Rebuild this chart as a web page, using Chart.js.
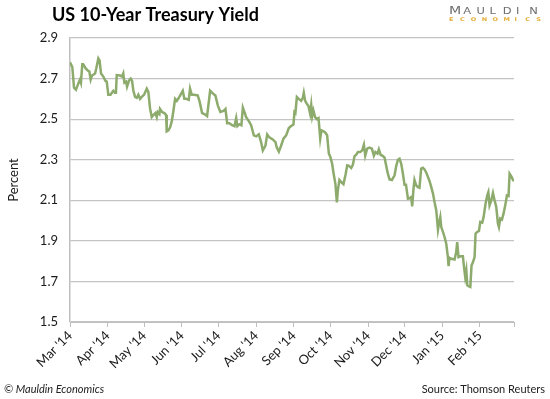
<!DOCTYPE html>
<html>
<head>
<meta charset="utf-8">
<script src="https://cdn.jsdelivr.net/npm/chart.js@4"></script>
<style>
  html, body { margin: 0; padding: 0; background: #fff; }
  #wrap { width: 550px; height: 399px; position: relative; }
</style>
</head>
<body>
<div id="wrap"><canvas id="grafico" width="550" height="399"></canvas></div>
<script>
// dias contados a partir de 1 mar 2014
const dias = [
    0, 1.9, 3.3, 4.9, 6.8, 8.2, 9.0, 10.1, 10.9, 12.9, 14.6, 15.9, 17.0, 18.1, 20.6, 21.6,
    23.3, 24.3, 25.5, 27.4, 29.0, 30.2, 31.5, 33.3, 35.6, 37.0, 37.8, 38.4, 41.1, 42.8, 43.8,
    44.7, 46.1, 46.9, 48.5, 49.9, 51.0, 52.1, 53.5, 54.9, 56.2, 57.6, 59.0, 60.9, 63.1, 64.4,
    65.8, 67.2, 68.5, 70.2, 71.3, 72.1, 73.5, 74.0, 75.7, 77.6, 79.0, 79.5, 80.9, 82.3, 83.7,
    85.0, 86.4, 87.8, 89.9, 92.7, 94.0, 95.4, 97.6, 98.7, 100.1, 102.0, 105.0, 106.4, 108.6,
    110.5, 112.7, 115.2, 117.4, 119.5, 121.5, 123.6, 126.1, 127.8, 129.2, 131.0, 133.3, 135.2,
    136.6, 137.6, 139.3, 140.9, 142.1, 143.4, 144.8, 147.0, 148.9, 151.1, 153.0, 155.2, 157.1,
    158.5, 160.7, 162.1, 163.9, 166.7, 168.9, 170.0, 171.7, 173.6, 175.5, 177.7, 179.9, 181.8,
    183.7, 184.5, 185.3, 186.5, 188.1, 190.0, 191.4, 192.2, 193.3, 194.7, 196.0, 197.4, 198.3,
    199.1, 200.1, 201.5, 202.9, 204.3, 205.7, 206.7, 208.4, 210.0, 211.4, 212.8, 214.1, 215.5,
    216.6, 218.2, 219.4, 220.2, 221.5, 222.9, 224.8, 226.5, 227.9, 229.3, 231.2, 232.6, 233.9,
    235.3, 236.7, 238.6, 240.2, 241.6, 242.7, 244.3, 246.2, 248.2, 249.8, 251.1, 252.8, 253.9,
    255.3, 257.2, 258.6, 259.9, 261.3, 262.7, 264.6, 266.8, 268.2, 269.6, 270.9, 272.3, 273.7,
    275.0, 276.2, 277.8, 279.1, 280.5, 281.3, 282.4, 283.2, 284.6, 286.0, 287.3, 288.7, 290.1,
    291.5, 292.9, 294.3, 295.6, 297.0, 298.4, 299.7, 301.1, 302.5, 303.3, 304.4, 305.2, 306.6,
    307.9, 309.3, 310.7, 311.2, 312.0, 313.4, 316.1, 317.5, 318.3, 319.4, 320.8, 323.0, 323.9,
    324.9, 325.8, 326.6, 328.0, 329.1, 330.1, 331.3, 332.6, 333.4, 334.8, 336.2, 337.3, 338.9,
    340.0, 341.6, 343.0, 343.9, 344.9, 346.3, 347.7, 349.0, 350.4, 351.8, 352.6, 353.7, 355.1,
    356.4, 357.8, 359.2, 360.5, 361.4, 362.8, 364.2, 365
];

const rendimentos = [
    2.78, 2.757, 2.655, 2.645, 2.675, 2.695, 2.68, 2.77, 2.77, 2.75, 2.74, 2.735, 2.695, 2.715, 2.725, 2.75,
    2.80, 2.79, 2.725, 2.71, 2.69, 2.685, 2.62, 2.62, 2.64, 2.63, 2.635, 2.717, 2.715, 2.71, 2.725,
    2.68, 2.685, 2.66, 2.69, 2.70, 2.69, 2.64, 2.61, 2.605, 2.62, 2.60, 2.61, 2.62, 2.65, 2.634,
    2.553, 2.51, 2.52, 2.53, 2.51, 2.535, 2.525, 2.55, 2.535, 2.53, 2.52, 2.44, 2.445, 2.46, 2.49,
    2.54, 2.60, 2.59, 2.61, 2.64, 2.60, 2.60, 2.595, 2.65, 2.62, 2.62, 2.617, 2.59, 2.53,
    2.525, 2.515, 2.64, 2.627, 2.617, 2.568, 2.535, 2.54, 2.55, 2.48, 2.48, 2.47, 2.465,
    2.505, 2.465, 2.475, 2.47, 2.557, 2.535, 2.51, 2.49, 2.47, 2.42, 2.415, 2.425, 2.387,
    2.346, 2.37, 2.425, 2.41, 2.40, 2.387, 2.36, 2.34, 2.37, 2.404, 2.42, 2.456, 2.466,
    2.473, 2.535, 2.53, 2.609, 2.60, 2.59, 2.605, 2.63, 2.59, 2.576, 2.565, 2.527, 2.57,
    2.515, 2.543, 2.51, 2.50, 2.505, 2.404, 2.445, 2.44, 2.433, 2.42, 2.33, 2.313, 2.28,
    2.236, 2.18, 2.09, 2.15, 2.20, 2.19, 2.18, 2.226, 2.272, 2.27, 2.259, 2.276, 2.318,
    2.325, 2.338, 2.338, 2.346, 2.374, 2.32, 2.355, 2.36, 2.355, 2.32, 2.338, 2.33, 2.351,
    2.325, 2.318, 2.31, 2.272, 2.231, 2.203, 2.20, 2.223, 2.27, 2.30, 2.305, 2.28, 2.23,
    2.177, 2.177, 2.108, 2.11, 2.116, 2.07, 2.157, 2.20, 2.174, 2.165, 2.162, 2.256, 2.26,
    2.252, 2.236, 2.215, 2.194, 2.165, 2.133, 2.09, 2.05, 1.955, 1.985, 2.017, 1.968, 1.944,
    1.919, 1.886, 1.817, 1.775, 1.817, 1.812, 1.808, 1.845, 1.894, 1.82, 1.824, 1.824, 1.771,
    1.722, 1.755, 1.681, 1.676, 1.673, 1.779, 1.796, 1.82, 1.936, 1.944, 1.949, 1.993, 1.99,
    2.017, 2.083, 2.124, 2.14, 2.075, 2.10, 2.136, 2.10, 2.067, 1.985, 1.968, 2.01, 2.005,
    2.034, 2.075, 2.124, 2.121, 2.231, 2.218, 2.20, 2.195
];

const inicio_meses = [0, 31, 61, 92, 122, 153, 184, 214, 245, 275, 306, 337, 365];
const nomes_meses = ["Mar '14", "Apr '14", "May '14", "Jun '14", "Jul '14", "Aug '14",
    "Sep '14", "Oct '14", "Nov '14", "Dec '14", "Jan '15", "Feb '15", ""];
const ticks_y = [1.5, 1.7, 1.9, 2.1, 2.3, 2.5, 2.7, 2.9];

const fonte = 'Lato, "Open Sans", sans-serif';

const textos_extras = {
    id: 'textosExtras',
    afterDraw(chart) {
        const ctx = chart.ctx;
        ctx.save();
        ctx.textBaseline = 'alphabetic';

        // titulo
        ctx.fillStyle = '#000';
        ctx.font = 'bold 18px ' + fonte;
        ctx.textAlign = 'left';
        ctx.fillText('US 10-Year Treasury Yield', 52, 21);

        // logo
        const letras1 = 'MAULDIN';
        ctx.fillStyle = '#6e6e6e';
        for (let i = 0; i < letras1.length; i++) {
            ctx.font = (i === 0 ? '10.5px ' : '8.5px ') + '"DejaVu Sans", sans-serif';
            ctx.save();
            ctx.translate(449 + i * 13.2 + (i === 0 ? 0 : 1), 14);
            ctx.scale(1.35, 1);
            ctx.fillText(letras1[i], 0, 0);
            ctx.restore();
        }
        const letras2 = 'ECONOMICS';
        ctx.fillStyle = '#e3ad38';
        ctx.font = 'bold 5px "DejaVu Sans", sans-serif';
        for (let i = 0; i < letras2.length; i++) {
            ctx.save();
            ctx.translate(449 + i * 10.9, 20.5);
            ctx.scale(1.3, 1);
            ctx.fillText(letras2[i], 0, 0);
            ctx.restore();
        }

        // rodape
        ctx.fillStyle = '#222';
        ctx.font = 'italic 11px ' + fonte;
        ctx.textAlign = 'left';
        ctx.fillText('\u00A9 Mauldin Economics', 4, 393);
        ctx.font = '11px ' + fonte;
        ctx.textAlign = 'right';
        ctx.fillText('Source: Thomson Reuters', 545, 393);
        ctx.restore();
    }
};

new Chart(document.getElementById('grafico'), {
    type: 'line',
    data: {
        datasets: [{
            data: dias.map((d, i) => ({ x: d, y: rendimentos[i] })),
            borderColor: '#8dab6c',
            borderWidth: 2.5,
            pointRadius: 0,
            tension: 0,
            fill: false
        }]
    },
    options: {
        responsive: false,
        animation: false,
        layout: { padding: { top: 38, right: 36, left: 0, bottom: 0 } },
        plugins: { legend: { display: false }, tooltip: { enabled: false } },
        scales: {
            x: {
                type: 'linear',
                min: 0,
                max: 365,
                afterBuildTicks: (scale) => { scale.ticks = inicio_meses.map(v => ({ value: v })); },
                afterFit: (scale) => { scale.height = 77; },
                border: { display: true, color: '#bfbfbf', width: 1 },
                grid: { drawOnChartArea: false, drawTicks: true, tickLength: 5, color: '#bfbfbf' },
                ticks: {
                    autoSkip: false,
                    maxRotation: 45,
                    minRotation: 45,
                    padding: 1,
                    color: '#1a1a1a',
                    font: { family: fonte, size: 13 },
                    callback: (v) => nomes_meses[inicio_meses.indexOf(v)]
                }
            },
            y: {
                min: 1.5,
                max: 2.9,
                afterBuildTicks: (scale) => { scale.ticks = ticks_y.map(v => ({ value: v })); },
                afterFit: (scale) => { scale.width = 70; },
                border: { display: true, color: '#bfbfbf', width: 1.5 },
                grid: { color: '#c4c4c4', lineWidth: 1.2, drawTicks: false },
                title: {
                    display: true,
                    text: 'Percent',
                    color: '#1a1a1a',
                    font: { family: fonte, size: 13 },
                    padding: { top: 6, bottom: 0 }
                },
                ticks: {
                    padding: 12,
                    color: '#1a1a1a',
                    font: { family: fonte, size: 13 },
                    callback: (v) => v.toFixed(1)
                }
            }
        }
    },
    plugins: [textos_extras]
});
</script>
</body>
</html>
